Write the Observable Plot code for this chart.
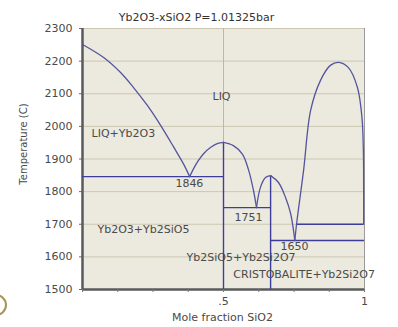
<!DOCTYPE html>
<html><head><meta charset="utf-8">
<script src="https://cdn.jsdelivr.net/npm/d3@7"></script>
<script src="https://cdn.jsdelivr.net/npm/@observablehq/plot@0.6"></script>
<style>
body{margin:0;background:#fff;}
#wrap{position:relative;width:398px;height:327px;overflow:hidden;}
#blob{position:absolute;left:-15px;top:294px;width:18px;height:18px;border:2px solid #a8925a;border-radius:50%;}
</style></head><body><div id="wrap"><div id="blob"></div></div>
<script>
// ---- data ----
const titleText = "Yb2O3-xSiO2 P=1.01325bar";
const xLabelText = "Mole fraction SiO2";
const yLabelText = "Temperature (C)";
const temperatureTicks = [1500,1600,1700,1800,1900,2000,2100,2200,2300];
const xMinorTicks = [0,0.125,0.25,0.375,0.5,0.625,0.75,0.875,1];
const xLabelTicks = [0.5,1];
const xTickLabels = [".5","1"];

// liquidus branches [x, T]
const liqYb2O3 = [[0,2251],[0.075,2211],[0.135,2165],[0.181,2119],[0.23,2064],[0.277,2003],[0.323,1937],[0.36,1882],[0.38,1846]];
const liqYb2SiO5Left = [[0.38,1846],[0.395,1872],[0.41,1894],[0.43,1917],[0.455,1936],[0.48,1948],[0.5,1951]];
const liqYb2SiO5Right = [[0.5,1951],[0.535,1941],[0.567,1915],[0.589,1866],[0.606,1805],[0.617,1751]];
const liqYb2Si2O7Left = [[0.617,1751],[0.631,1813],[0.649,1843],[0.667,1849]];
const liqYb2Si2O7Right = [[0.667,1849],[0.695,1828],[0.72,1782],[0.738,1733],[0.753,1650]];
const liqSiO2 = [[0.753,1650],[0.759,1700],[0.784,1865],[0.809,2049],[0.844,2141],[0.879,2187],[0.908,2196],[0.943,2180],[0.975,2119],[0.991,2027],[0.996,1926],[0.997,1800],[0.997,1700]];

// invariant isotherms
const isothermT = [1846,1751,1650,1700];
const isothermFrom = [0,0.5,0.667,0.759];
const isothermTo = [0.5,0.667,1,0.997];

// congruent compounds
const compoundX = [0.5,0.667];
const compoundTop = [1951,1849];

// phase-field labels
const labelText = ["LIQ","LIQ+Yb2O3","1846","Yb2O3+Yb2SiO5","1751","1650","Yb2SiO5+Yb2Si2O7","CRISTOBALITE+Yb2Si2O7"];
const labelX = [0.461,0.032,0.379,0.053,0.589,0.752,0.369,0.535];
const labelT = [2092,1978,1825,1684,1721,1632,1598,1546];
const labelAlign = ["start","start","middle","start","middle","middle","start","start"];

// ---- build tables ----
const branches = {liqYb2O3, liqYb2SiO5Left, liqYb2SiO5Right, liqYb2Si2O7Left, liqYb2Si2O7Right, liqSiO2};
const liquidus = Object.entries(branches).flatMap(([k, pts]) => pts.map(([x, T]) => ({branch: k, x, T})));
const isotherms = isothermT.map((T, i) => ({T, x1: isothermFrom[i], x2: isothermTo[i]}));
const compounds = compoundX.map((x, i) => ({x, top: compoundTop[i]}));
const labels = labelText.map((t, i) => ({t, x: labelX[i], T: labelT[i], a: labelAlign[i]}));

const lineBlue = "#3d3d9c";
const curveBlue = "#55559e";
const textCol = "#4a4a4a";

const chart = Plot.plot({
  width: 398, height: 327,
  marginLeft: 82, marginRight: 34, marginTop: 28, marginBottom: 38,
  style: {fontFamily: "DejaVu Sans", fontSize: "11px", background: "white", color: textCol},
  x: {domain: [0, 1]},
  y: {domain: [1500, 2300]},
  marks: [
    Plot.frame({fill: "#ece9de", stroke: "#9a9a9a"}),
    Plot.gridY(temperatureTicks, {stroke: "#cdc7b2", strokeOpacity: 1, strokeWidth: 1}),
    Plot.gridX([0.5], {stroke: "#bdb8a6", strokeOpacity: 1}),
    Plot.ruleX([0], {stroke: "#5a5a5a", strokeWidth: 2.5}),
    Plot.ruleY([1500], {stroke: "#5a5a5a", strokeWidth: 2.5}),
    Plot.axisY(temperatureTicks, {tickSize: 3, tickPadding: 7, tickFormat: d => String(d), label: null, fill: textCol, stroke: "#666"}),
    Plot.axisX(xMinorTicks, {tickSize: 3, tickFormat: () => "", label: null, stroke: "#777"}),
    Plot.axisX(xLabelTicks, {tickSize: 0, tickPadding: 8, tickFormat: d => xTickLabels[xLabelTicks.indexOf(d)], label: null, fill: textCol}),
    Plot.ruleX(compounds, {x: "x", y1: 1500, y2: "top", stroke: lineBlue, strokeWidth: 1.4}),
    Plot.ruleY(isotherms, {y: "T", x1: "x1", x2: "x2", stroke: lineBlue, strokeWidth: 1.4}),
    Plot.line(liquidus, {x: "x", y: "T", z: "branch", stroke: curveBlue, strokeWidth: 1.3, curve: "catmull-rom"}),
    Plot.text(labels.filter(d => d.a === "start"), {x: "x", y: "T", text: "t", textAnchor: "start", fill: textCol}),
    Plot.text(labels.filter(d => d.a === "middle"), {x: "x", y: "T", text: "t", textAnchor: "middle", fill: textCol}),
    Plot.text([titleText], {frameAnchor: "top", dy: -15, dx: -27, fill: "#333"}),
    Plot.text([xLabelText], {frameAnchor: "bottom", dy: 31, dx: -1, fill: textCol}),
    Plot.text([yLabelText], {frameAnchor: "left", textAnchor: "middle", dx: -59, dy: -15, rotate: -90, fill: textCol, fontSize: 10})
  ]
});
document.getElementById("wrap").prepend(chart);
</script>
</body></html>
